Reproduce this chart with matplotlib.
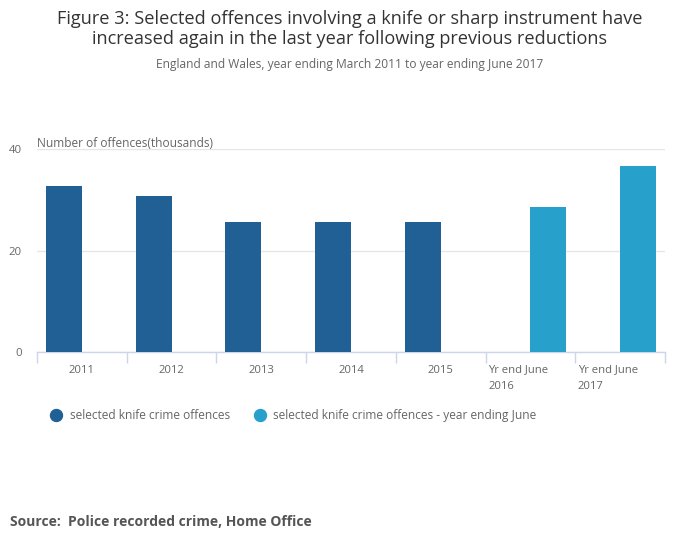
import matplotlib
matplotlib.use("Agg")
import matplotlib.pyplot as plt
import numpy as np
from matplotlib.lines import Line2D
from matplotlib.transforms import blended_transform_factory

plt.rcParams['font.family'] = ['Open Sans', 'DejaVu Sans']

categories = ["2011", "2012", "2013", "2014", "2015", "Yr end June\n2016", "Yr end June\n2017"]
series1 = [32.8, 30.8, 25.7, 25.7, 25.7, None, None]
series2 = [None, None, None, None, None, 28.7, 36.8]
series_names = ["selected knife crime offences", "selected knife crime offences - year ending June"]
colors = ["#206095", "#27a0cc"]
yticks = [0, 20, 40]

fig = plt.figure(figsize=(7.0, 5.49), dpi=100)
ax = fig.add_axes([37/700, 1-352/549, (665-37)/700, (352-149.5)/549])

n = len(categories)
x = np.arange(n)
w = 0.4
v1 = [np.nan if v is None else v for v in series1]
v2 = [np.nan if v is None else v for v in series2]
ax.bar(x - w/2, v1, width=w, color=colors[0], zorder=3)
ax.bar(x + w/2, v2, width=w, color=colors[1], zorder=3)

ax.set_xlim(-0.5, n - 0.5)
ax.set_ylim(0, 40)
ax.set_yticks(yticks)
ax.set_yticklabels([str(t) for t in yticks], fontsize=8.2, color="#666666")
ax.tick_params(axis='y', length=0, pad=11)
ax.yaxis.grid(True, color="#e6e6e6", linewidth=1, zorder=0)
ax.set_axisbelow(True)
for s in ['top', 'right', 'left']:
    ax.spines[s].set_visible(False)
ax.spines['bottom'].set_color("#ccd6eb")
ax.spines['bottom'].set_linewidth(1)

ax.set_xticks(np.arange(n + 1) - 0.5)
ax.set_xticklabels([])
ax.tick_params(axis='x', length=8, color="#ccd6eb", width=1)

trans = blended_transform_factory(ax.transData, ax.transAxes)
for i, lab in enumerate(categories):
    if "\n" in lab:
        ax.text(i - 0.47, -0.062, lab, transform=trans, ha='left', va='top',
                fontsize=8.1, color="#666666", linespacing=1.7)
    else:
        ax.text(i, -0.062, lab, transform=trans, ha='center', va='top',
                fontsize=8.1, color="#666666")

fig.text(37/700, 1-143.5/549, "Number of offences(thousands)", ha='left', va='center',
         fontsize=8.6, color="#666666")

fig.text(350/700, 1-29/549,
         "Figure 3: Selected offences involving a knife or sharp instrument have\nincreased again in the last year following previous reductions",
         ha='center', va='center', fontsize=13.1, color="#333333", linespacing=1.15)
fig.text(350/700, 1-64/549, "England and Wales, year ending March 2011 to year ending June 2017",
         ha='center', va='center', fontsize=8.65, color="#666666")

# legend
leg_items = [(56, 69.5, series_names[0], colors[0]), (260, 273, series_names[1], colors[1])]
for mx, tx, name, c in leg_items:
    fig.add_artist(Line2D([mx/700], [1-415/549], marker='o', markersize=8.6,
                          color=c, linestyle='none', transform=fig.transFigure))
    fig.text(tx/700, 1-415.5/549, name, ha='left', va='center', fontsize=8.6, color="#666666")

fig.text(10.5/700, 1-521.5/549, "Source:  Police recorded crime, Home Office", ha='left', va='center',
         fontsize=10.0, fontweight='bold', color="#555555")

fig.savefig("out.png", dpi=100)
